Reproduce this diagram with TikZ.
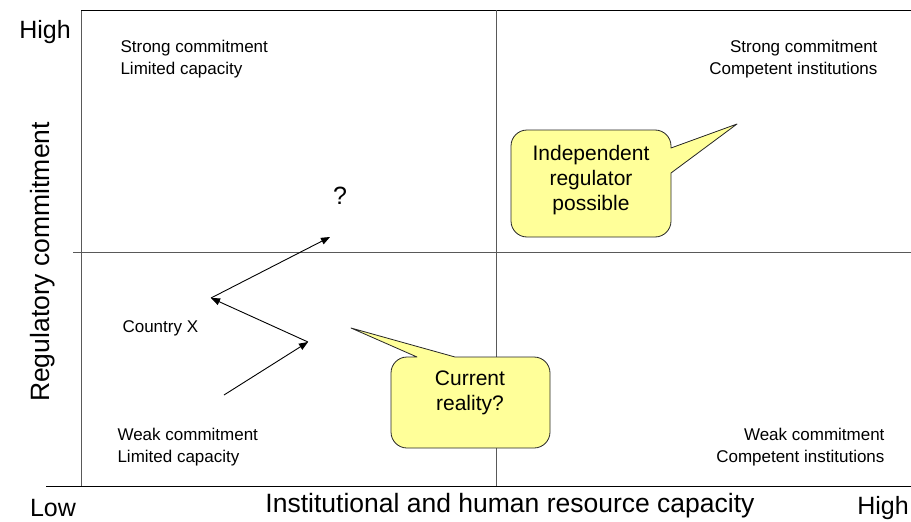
\documentclass[tikz,border=0pt]{standalone}
\usepackage{fontspec}
\setmainfont{Liberation Sans}
\usetikzlibrary{arrows.meta}
\definecolor{bubble}{RGB}{255,255,153}
\tikzset{
  axis/.style={draw=black!65, line width=0.9pt},
  frame/.style={draw=black, line width=0.9pt},
  big/.style={font=\fontsize{25}{28}\selectfont},
  bigger/.style={font=\fontsize{26.5}{30}\selectfont},
  small/.style={font=\fontsize{17}{22}\selectfont},
  talk/.style={font=\fontsize{21}{25}\selectfont, align=center},
  bubbleline/.style={draw=black!85, fill=bubble, line width=0.8pt},
  move/.style={draw, line width=0.9pt, -{Triangle[length=9pt,width=7pt]}}
}
\begin{document}
\begin{tikzpicture}[x=1pt, y=-1pt, line join=round]
\useasboundingbox[fill=white] (0,0) rectangle (911,522);
% quadrant lines
\draw[axis] (81,10)--(81,486);
\draw[frame] (81,10)--(911,10);
\draw[frame] (46,486)--(911,486);
\draw[axis] (73,252)--(911,252);
\draw[axis] (496,10)--(496,486);
% axis labels
\node[big] (yhigh) at (45,32) {High};
\node[big] (xlow) at (53,508) {Low};
\node[big] (xhigh) at (883,508) {High};
\node[bigger] (xlabel) at (510,506) {Institutional and human resource capacity};
\node[bigger, rotate=90] (ylabel) at (43,262) {Regulatory commitment};
% quadrant texts
\node[small, anchor=west, align=left] (tl) at (117,59) {Strong commitment\\Limited capacity};
\node[small, anchor=east, align=right] (tr) at (881,59) {Strong commitment\\Competent institutions};
\node[small, anchor=west, align=left] (bl) at (114,447) {Weak commitment\\Limited capacity};
\node[small, anchor=east, align=right] (br) at (888,447) {Weak commitment\\Competent institutions};
\node[small, anchor=west] (cx) at (119,328) {Country X};
\node[big] (q) at (340,196) {?};
% path of country X
\coordinate (s) at (224,395);
\coordinate (p1) at (308,342);
\coordinate (p2) at (211,298);
\coordinate (p3) at (330,237);
\draw[move] (s)--(p1);
\draw[move] (p1)--(p2);
\draw[move] (p2)--(p3);
% callouts
\coordinate (tipa) at (737,124);
\coordinate (tipb) at (351,328);
\draw[bubbleline] (511,180) [rounded corners=16] -- (511,130) -- (671,130) [sharp corners] -- (671,148) -- (tipa) -- (671,173) [rounded corners=16] -- (671,237) -- (511,237) -- cycle;
\draw[bubbleline] (391,400) [rounded corners=16] -- (391,357) [sharp corners] -- (417,357) -- (tipb) -- (455,357) [rounded corners=16] -- (550,357) -- (550,448) -- (391,448) -- cycle;
\node[talk] (indep) at (591,180) {Independent\\regulator\\possible};
\node[talk] (curr) at (470,393) {Current\\reality?};
\end{tikzpicture}
\end{document}
